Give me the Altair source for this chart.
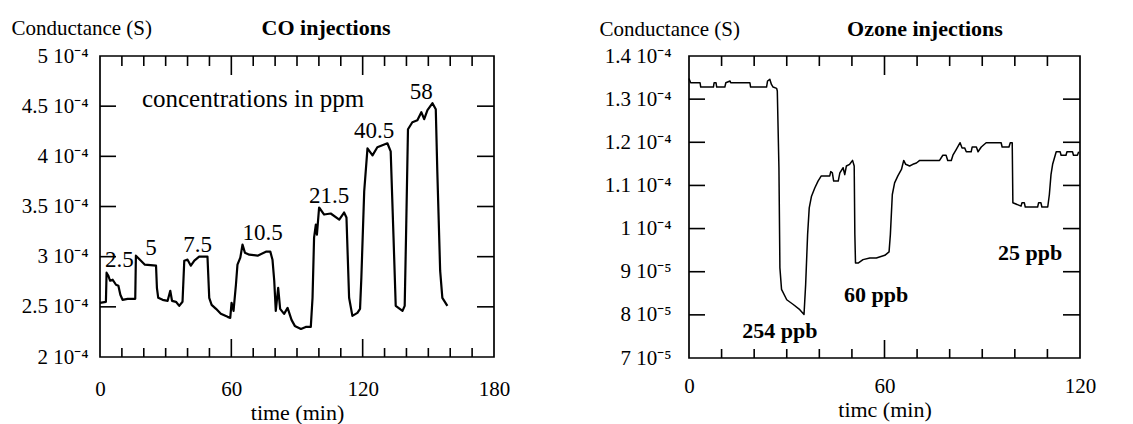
import altair as alt
import pandas as pd

FONT = "Liberation Serif"

# ---------------- CO panel data (conductance in units of 1e-4 S) ----------------
co_time = [0, 2.7, 3.0, 3.8, 4.6, 5.8, 7.3, 8.4, 9.3, 10.3,
           12.6, 16.1, 16.4, 18.7, 20.5, 25.6, 26.0, 26.6, 28.6, 30.9,
           32.1, 32.9, 34.7, 36.2, 37.7, 38.5, 40.0, 41.5, 43.1, 45.3,
           49.1, 49.9, 51.0, 53.0, 55.2, 58.3, 59.5, 60.1, 61.0, 62.1,
           62.8, 64.1, 65.1, 66.2, 68.2, 72.0, 75.8, 77.8, 78.8, 79.6,
           80.3, 81.4, 82.3, 84.1, 85.7, 87.5, 89.0, 91.8, 94.0, 96.3,
           97.1, 97.8, 98.6, 99.1, 100.1, 102.4, 105.4, 109.3, 111.5, 112.6,
           113.8, 115.3, 117.6, 118.8, 119.4, 120.7, 122.2, 124.5, 126.7, 131.3,
           132.8, 134.1, 135.1, 138.2, 139.2, 139.8, 140.7, 142.7, 145.0, 146.8,
           148.1, 149.6, 151.9, 153.4, 154.1, 155.4, 156.4, 158.7]
co_cond = [2.54, 2.55, 2.84, 2.81, 2.76, 2.77, 2.72, 2.71, 2.62, 2.57,
           2.58, 2.58, 3.01, 2.96, 2.92, 2.91, 2.69, 2.59, 2.57, 2.56,
           2.66, 2.56, 2.55, 2.51, 2.55, 2.96, 2.97, 2.91, 2.96, 3.00,
           3.00, 2.59, 2.52, 2.48, 2.43, 2.40, 2.39, 2.54, 2.46, 2.72,
           2.92, 2.99, 3.12, 3.04, 3.02, 3.01, 3.05, 3.05, 2.97, 2.76,
           2.46, 2.69, 2.48, 2.43, 2.49, 2.37, 2.31, 2.28, 2.30, 2.30,
           2.59, 3.19, 3.32, 3.22, 3.49, 3.42, 3.43, 3.37, 3.44, 3.39,
           2.59, 2.41, 2.44, 2.48, 2.79, 3.65, 4.08, 4.01, 4.09, 4.13,
           4.05, 3.19, 2.51, 2.46, 2.51, 3.19, 4.27, 4.34, 4.36, 4.44,
           4.37, 4.46, 4.53, 4.47, 3.85, 2.86, 2.59, 2.51]

co_x_labels = [0, 60, 120, 180]
co_x_minor = [10, 20, 30, 40, 50, 70, 80, 90, 100, 110, 130, 140, 150, 160, 170]
co_x_major = [60, 120]
co_y_values = [2, 2.5, 3, 3.5, 4, 4.5, 5]
co_y_labels = ["2 10⁻⁴", "2.5 10⁻⁴", "3 10⁻⁴", "3.5 10⁻⁴", "4 10⁻⁴", "4.5 10⁻⁴", "5 10⁻⁴"]
co_y_inner = [2.5, 3, 3.5, 4, 4.5]

co_ann_t = [8.8, 23.3, 44.6, 74.3, 104.7, 125.2, 146.8]
co_ann_v = [2.97, 3.09, 3.12, 3.24, 3.60, 4.25, 4.64]
co_ann_text = ["2.5", "5", "7.5", "10.5", "21.5", "40.5", "58"]
co_note_t = [69.9]
co_note_v = [4.57]
co_note_text = ["concentrations in ppm"]

# ---------------- Ozone panel data (conductance in units of 1e-5 S) ----------------
oz_time = [0, 0.5, 3.4, 3.6, 7.5, 7.7, 8.3, 8.5, 11.0, 11.3,
           12.6, 12.8, 18.7, 18.9, 23.8, 24.1, 24.8, 25.3, 25.8, 26.9,
           27.1, 27.6, 27.9, 28.4, 30.0, 32.0, 34.0, 35.3, 35.8, 36.4,
           36.9, 37.6, 38.6, 39.6, 40.6, 43.2, 43.5, 44.0, 44.4, 45.8,
           46.3, 47.3, 47.8, 48.3, 49.3, 50.2, 50.7, 50.9, 51.1, 51.9,
           53.4, 55.5, 57.5, 60.1, 61.4, 61.8, 62.4, 63.1, 64.1, 65.2,
           65.9, 66.5, 67.7, 68.7, 69.8, 70.8, 76.9, 77.9, 78.9, 79.4,
           80.5, 81.0, 82.0, 83.2, 83.8, 84.6, 85.1, 86.6, 86.9, 88.2,
           88.7, 89.7, 91.2, 95.8, 96.1, 98.2, 98.6, 99.2, 99.4, 101.9,
           102.2, 102.9, 103.2, 107.0, 107.3, 108.0, 108.3, 110.1, 110.6, 111.1,
           111.6, 112.7, 113.9, 114.2, 115.7, 116.0, 117.7, 118.0, 119.2, 119.6]
oz_cond = [13.48, 13.38, 13.38, 13.28, 13.28, 13.38, 13.38, 13.28, 13.28, 13.38,
           13.42, 13.38, 13.38, 13.28, 13.28, 13.42, 13.46, 13.34, 13.28, 13.25,
           13.19, 11.41, 9.09, 8.59, 8.35, 8.24, 8.12, 8.01, 8.70, 9.86,
           10.48, 10.75, 10.94, 11.10, 11.22, 11.22, 11.32, 11.29, 11.10, 11.10,
           11.29, 11.41, 11.25, 11.45, 11.49, 11.58, 11.45, 9.86, 9.20, 9.20,
           9.28, 9.32, 9.32, 9.38, 9.46, 9.86, 10.79, 11.06, 11.22, 11.37,
           11.58, 11.49, 11.45, 11.49, 11.52, 11.58, 11.58, 11.70, 11.70, 11.58,
           11.58, 11.70, 11.83, 11.99, 11.87, 11.87, 11.78, 11.78, 11.89, 11.89,
           11.78, 11.89, 11.99, 11.99, 11.89, 11.89, 11.99, 11.99, 10.60, 10.52,
           10.60, 10.60, 10.50, 10.50, 10.60, 10.60, 10.50, 10.50, 10.79, 11.25,
           11.49, 11.78, 11.78, 11.70, 11.70, 11.78, 11.78, 11.70, 11.70, 11.78]

oz_x_labels = [0, 60, 120]
oz_x_minor = [10, 20, 30, 40, 50, 70, 80, 90, 100, 110]
oz_x_major = [60]
oz_y_values = [7, 8, 9, 10, 11, 12, 13, 14]
oz_y_labels = ["7 10⁻⁵", "8 10⁻⁵", "9 10⁻⁵", "1 10⁻⁴", "1.1 10⁻⁴", "1.2 10⁻⁴", "1.3 10⁻⁴", "1.4 10⁻⁴"]
oz_y_inner = [8, 9, 10, 11, 12, 13]

oz_ann_t = [27.9, 57.4, 104.7]
oz_ann_v = [7.62, 8.47, 9.44]
oz_ann_text = ["254 ppb", "60 ppb", "25 ppb"]


def label_expr(values, labels):
    expr = "''"
    for v, l in reversed(list(zip(values, labels))):
        expr = f"datum.value == {v} ? '{l}' : ({expr})"
    return expr


def panel(time, cond, W, H, xdom, ydom, xlabels, xminor, xmajor, yvals, ylabels, yinner,
          xtitle, xlabel_pad, xtitle_y, ylabel_pad, ytitle_x, ytitle_y,
          title, title_x, title_y, line_w, bound_x, bound_y, bound_right):
    X = alt.X("t:Q",
              scale=alt.Scale(domain=xdom, nice=False, zero=False),
              axis=alt.Axis(values=xlabels, ticks=False, domain=False, grid=False,
                            labelFlush=False, labelOverlap=False,
                            labelFont=FONT, labelFontSize=21, labelColor="black",
                            labelPadding=xlabel_pad,
                            title=xtitle, titleFont=FONT, titleFontSize=22,
                            titleFontWeight="normal", titleColor="black",
                            titleY=xtitle_y, titleBaseline="middle"))
    Y = alt.Y("v:Q",
              scale=alt.Scale(domain=ydom, nice=False, zero=False),
              axis=alt.Axis(values=yvals, labelExpr=label_expr(yvals, ylabels),
                            ticks=False, domain=False, grid=False,
                            labelFlush=False, labelOverlap=False,
                            labelFont=FONT, labelFontSize=21, labelColor="black",
                            labelPadding=ylabel_pad,
                            title="Conductance (S)", titleFont=FONT, titleFontSize=21,
                            titleFontWeight="normal", titleColor="black",
                            titleAngle=0, titleAlign="left", titleBaseline="middle",
                            titleX=ytitle_x, titleY=ytitle_y))

    df = pd.DataFrame({"t": time, "v": cond})
    line = alt.Chart(df).mark_line(color="black", strokeWidth=line_w,
                                   strokeJoin="round").encode(x=X, y=Y)

    minor = pd.DataFrame({"t": xminor})
    major = pd.DataFrame({"t": xmajor})
    inner = pd.DataFrame({"v": yinner})
    rule = dict(color="black", strokeWidth=1.6)
    layers = [
        alt.Chart(minor).mark_rule(**rule).encode(x=X, y=alt.value(H), y2=alt.value(H - 9)),
        alt.Chart(minor).mark_rule(**rule).encode(x=X, y=alt.value(0), y2=alt.value(10)),
        alt.Chart(major).mark_rule(**rule).encode(x=X, y=alt.value(H), y2=alt.value(H - 18)),
        alt.Chart(major).mark_rule(**rule).encode(x=X, y=alt.value(0), y2=alt.value(19)),
        alt.Chart(inner).mark_rule(**rule).encode(y=Y, x=alt.value(0), x2=alt.value(16)),
        alt.Chart(inner).mark_rule(**rule).encode(y=Y, x=alt.value(W - 17), x2=alt.value(W)),
        line,
        alt.Chart(pd.DataFrame({"s": [title]})).mark_text(
            font=FONT, fontSize=22, fontWeight="bold", color="black",
            align="center", baseline="middle").encode(
            x=alt.value(title_x), y=alt.value(title_y), text="s:N"),
        # invisible rule fixing the panel's outer bounds
        alt.Chart(pd.DataFrame({"s": [0]})).mark_rule(opacity=0, strokeWidth=0.01).encode(
            x=alt.value(bound_x), x2=alt.value(bound_right), y=alt.value(bound_y)),
    ]
    return layers, X, Y


co_layers, coX, coY = panel(co_time, co_cond, 394, 301, [0, 180], [2, 5],
                            co_x_labels, co_x_minor, co_x_major,
                            co_y_values, co_y_labels, co_y_inner,
                            "time (min)", 21, 55, 12, -89, -28,
                            "CO injections", 226, -28, 2.2, -99, -52, 414)
co_ann = alt.Chart(pd.DataFrame({"t": co_ann_t, "v": co_ann_v, "s": co_ann_text})).mark_text(
    font=FONT, fontSize=23, color="black", align="center", baseline="middle").encode(
    x=coX, y=coY, text="s:N")
co_note = alt.Chart(pd.DataFrame({"t": co_note_t, "v": co_note_v, "s": co_note_text})).mark_text(
    font=FONT, fontSize=25, color="black", align="center", baseline="middle").encode(
    x=coX, y=coY, text="s:N")
co_chart = alt.layer(*co_layers, co_ann, co_note).properties(width=394, height=301)

oz_layers, ozX, ozY = panel(oz_time, oz_cond, 391, 302, [0, 120], [7, 14],
                            oz_x_labels, oz_x_minor, oz_x_major,
                            oz_y_values, oz_y_labels, oz_y_inner,
                            "timc (min)", 17, 51, 18, -90, -27,
                            "Ozone injections", 236, -27, 1.5, -100, -55, 400)
oz_ann = alt.Chart(pd.DataFrame({"t": oz_ann_t, "v": oz_ann_v, "s": oz_ann_text})).mark_text(
    font=FONT, fontSize=22, fontWeight="bold", color="black", align="center",
    baseline="middle").encode(x=ozX, y=ozY, text="s:N")
oz_chart = alt.layer(*oz_layers, oz_ann).properties(width=391, height=302)

chart = alt.concat(co_chart, oz_chart, columns=2, align="none", spacing=73).properties(
    padding=0, background="white"
).configure_view(stroke="black", strokeWidth=1.7)

chart.save("out.html", embed_options={"renderer": "svg", "actions": False})
